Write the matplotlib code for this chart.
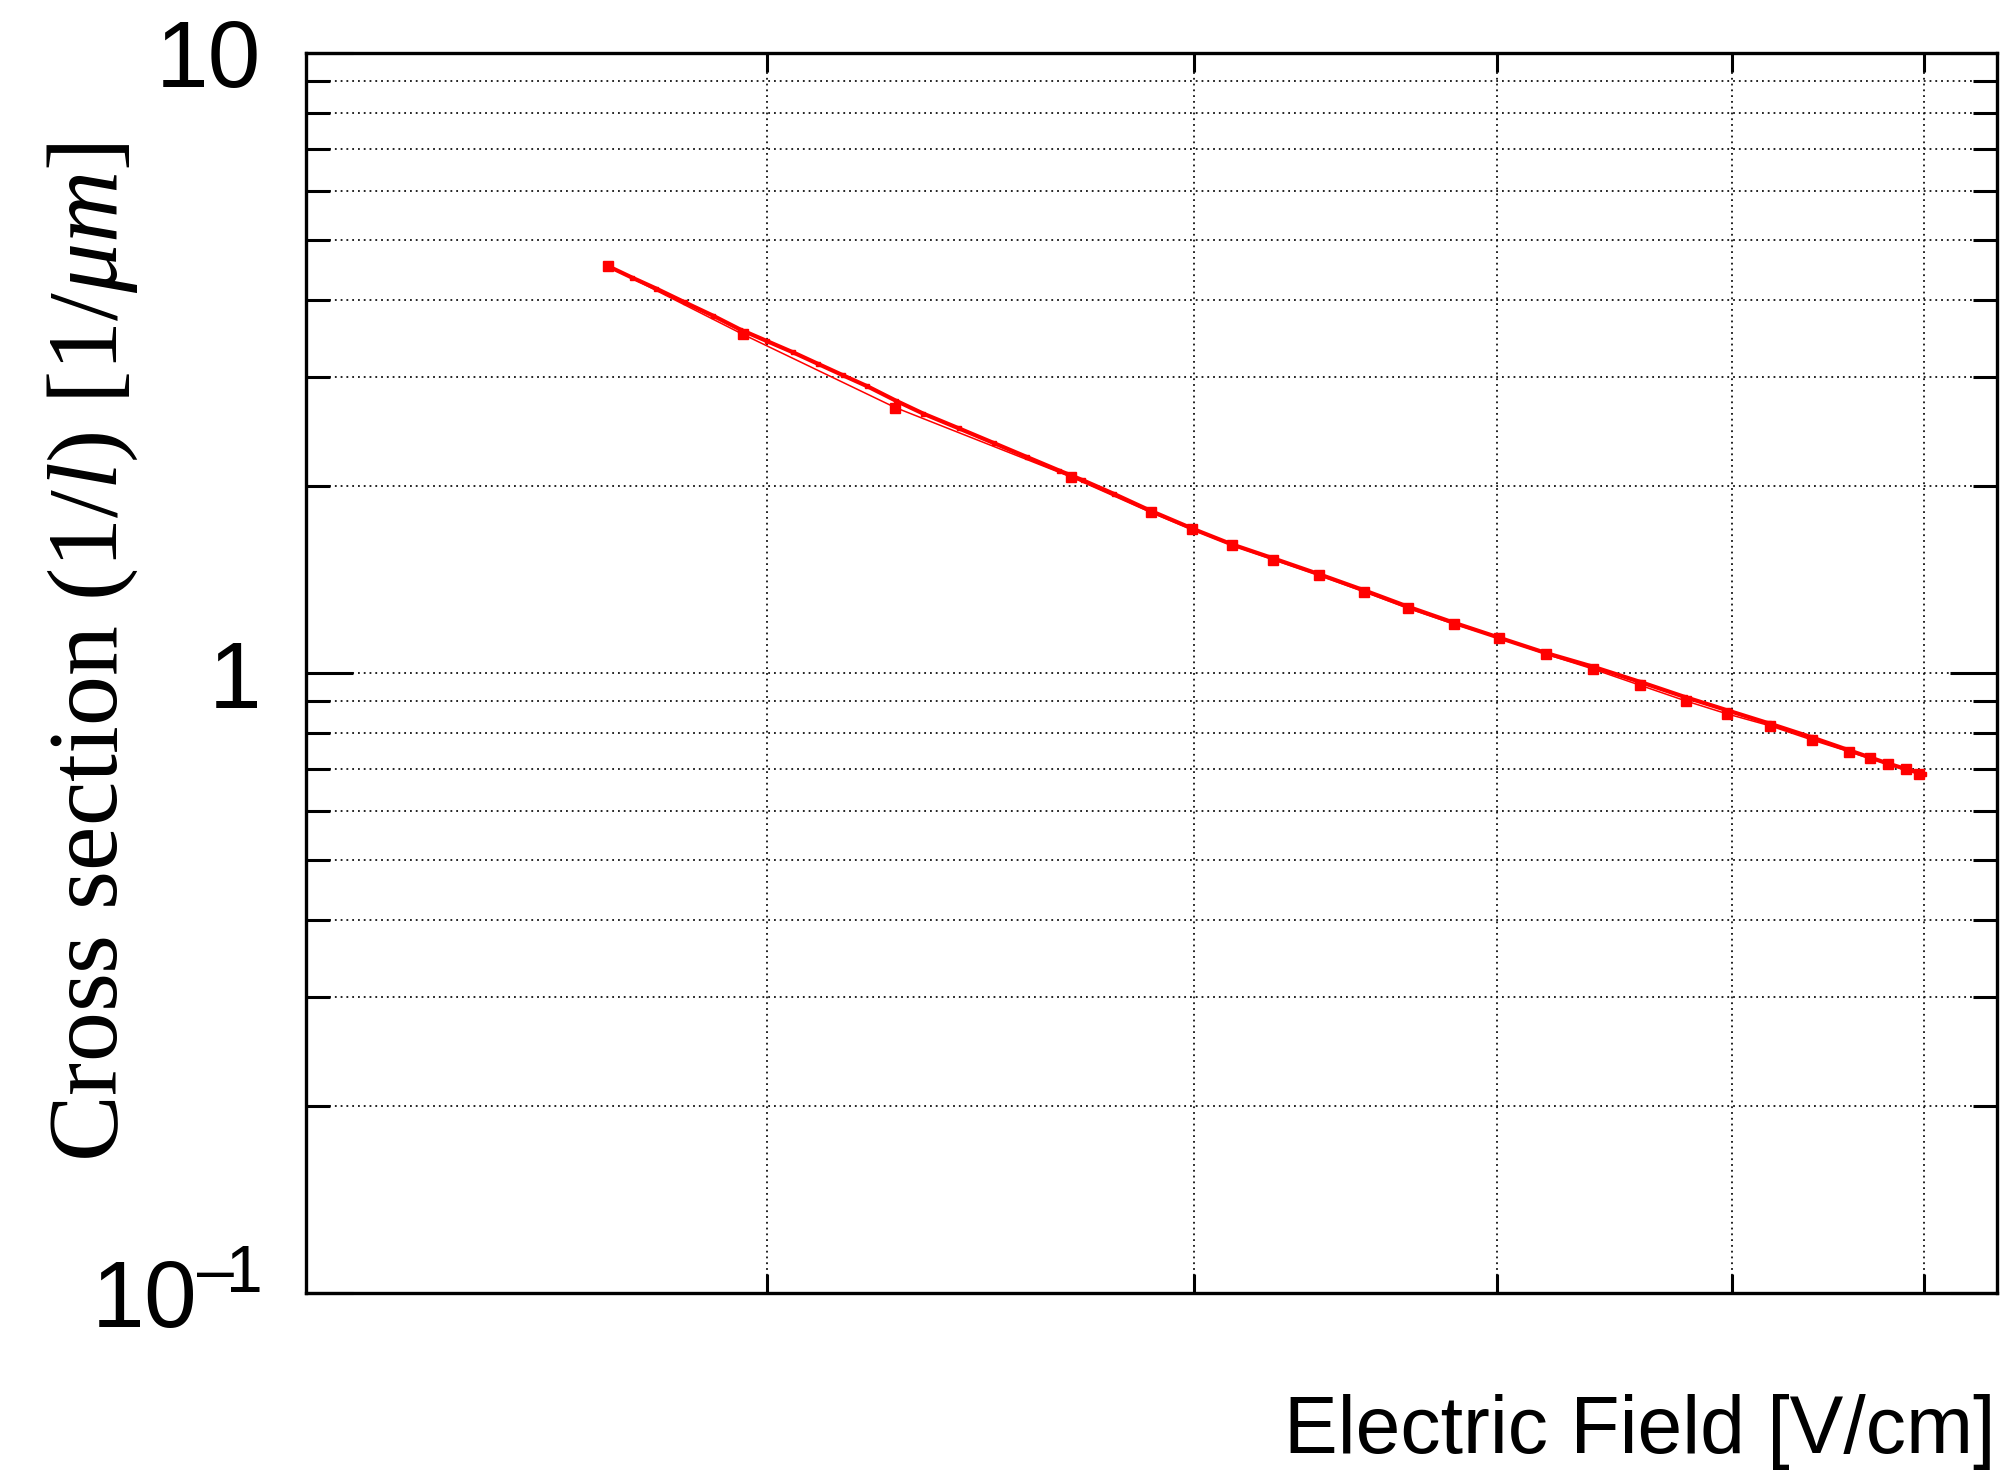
import matplotlib
matplotlib.use('Agg')
import matplotlib.pyplot as plt
from matplotlib.ticker import FixedLocator, FixedFormatter, NullLocator, NullFormatter

# ---------------- data ----------------
# dense scan (thick curve)
dense_field = [1720, 1760, 1800, 1850, 1900, 1950, 2000, 2050, 2100, 2150, 2200, 2260,
               2320, 2400, 2480, 2560, 2640, 2700, 2780, 2880, 3000, 3110, 3240, 3380,
               3530, 3680, 3840, 4000, 4190, 4380, 4580, 4780, 4980, 5180, 5390, 5590,
               5800, 6000]
dense_xsec = [4.53, 4.34, 4.17, 3.96, 3.77, 3.58, 3.43, 3.29, 3.15, 3.02, 2.90, 2.75,
              2.62, 2.48, 2.35, 2.23, 2.12, 2.045, 1.945, 1.825, 1.705, 1.612, 1.527, 1.442,
              1.357, 1.277, 1.205, 1.143, 1.077, 1.024, 0.968, 0.915, 0.870, 0.829, 0.788, 0.750,
              0.714, 0.686]

# sparse measurement points (markers)
point_field = [1720, 1954, 2259, 2670, 2880, 2993, 3110, 3235, 3379, 3524, 3674, 3838,
               4006, 4192, 4381, 4580, 4787, 4977, 5183, 5393, 5585, 5700, 5800, 5900, 5973]
point_xsec = [4.53, 3.52, 2.68, 2.07, 1.815, 1.705, 1.607, 1.523, 1.437, 1.353, 1.272, 1.200,
              1.140, 1.072, 1.015, 0.956, 0.901, 0.859, 0.822, 0.780, 0.747, 0.728, 0.713, 0.699,
              0.687]

x_grid_ticks = [2000, 3000, 4000, 5000, 6000]
y_major_ticks = [0.1, 1, 10]
y_major_labels = ['$\\mathregular{10^{\u2013\\!1}}$', '1', '10']
y_minor_ticks = [0.2, 0.3, 0.4, 0.5, 0.6, 0.7, 0.8, 0.9, 2, 3, 4, 5, 6, 7, 8, 9]

# ---------------- style ----------------
plt.rcParams['mathtext.fontset'] = 'custom'
plt.rcParams['mathtext.rm'] = 'Liberation Serif'
plt.rcParams['mathtext.it'] = 'Liberation Serif:italic'
plt.rcParams['mathtext.bf'] = 'Liberation Serif:bold'
plt.rcParams['font.family'] = ['Liberation Sans', 'DejaVu Sans']

W, H = 2007, 1471
fig = plt.figure(figsize=(W / 100, H / 100), dpi=100)
L, R, T, B = 306, 1997, 53, 1293
ax = fig.add_axes([L / W, 1 - B / H, (R - L) / W, (B - T) / H])

red = '#ff0000'
ax.plot(dense_field, dense_xsec, color=red, lw=3.0, marker='s', ms=3.5, mec=red, mfc=red, zorder=3)
ax.plot(point_field, point_xsec, color=red, lw=1.1, marker='s', ms=6.5, mec=red, mfc=red, zorder=4)

ax.set_xscale('log')
ax.set_yscale('log')
ax.set_xlim(1291, 6430)
ax.set_ylim(0.1, 10)

ax.xaxis.set_major_locator(FixedLocator(x_grid_ticks))
ax.xaxis.set_major_formatter(NullFormatter())
ax.xaxis.set_minor_locator(NullLocator())
ax.xaxis.set_minor_formatter(NullFormatter())

ax.yaxis.set_major_locator(FixedLocator(y_major_ticks))
ax.yaxis.set_major_formatter(FixedFormatter(y_major_labels))
ax.yaxis.set_minor_locator(FixedLocator(y_minor_ticks))
ax.yaxis.set_minor_formatter(NullFormatter())

ax.tick_params(axis='x', which='major', direction='in', length=14, width=2.2,
               top=True, bottom=True)
ax.tick_params(axis='y', which='major', direction='in', length=34, width=2.2,
               left=True, right=True, labelsize=68, pad=32)
ax.tick_params(axis='y', which='minor', direction='in', length=17, width=2.2,
               left=True, right=True)

for s in ax.spines.values():
    s.set_linewidth(2.4)
    s.set_color('black')

grid_kw = dict(color='#111111', linewidth=1.3, linestyle=(0, (1, 2.2)))
ax.grid(True, which='major', axis='both', **grid_kw)
ax.grid(True, which='minor', axis='y', **grid_kw)
ax.set_axisbelow(True)

ax.set_xlabel('Electric Field [V/cm]', fontsize=58, ha='right', va='baseline')
ax.xaxis.set_label_coords((1995 - L) / (R - L), (B - 1453) / (B - T))

ax.set_ylabel(r'Cross section $(1/l)$ $[1/\mu m]$', fontsize=72,
              family=['Liberation Serif', 'DejaVu Serif'], va='center', ha='center')
ax.yaxis.set_label_coords((93 - L) / (R - L), (B - 652) / (B - T))

fig.savefig('out.png', dpi=100)
